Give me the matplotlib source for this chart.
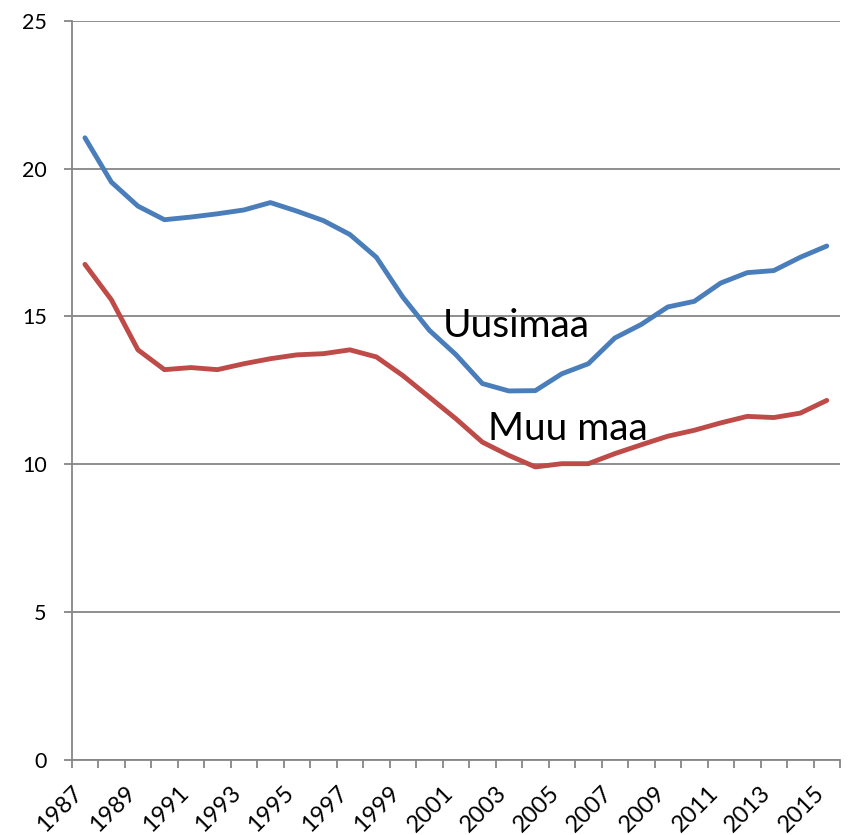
import matplotlib
matplotlib.use('Agg')

import numpy as np
import matplotlib.pyplot as plt

# Data
years = list(range(1987, 2016))
uusimaa = [21.04, 19.54, 18.73, 18.27, 18.36, 18.47, 18.60, 18.85, 18.56, 18.24,
           17.77, 17.00, 15.65, 14.53, 13.71, 12.73, 12.48, 12.49, 13.06, 13.40,
           14.27, 14.73, 15.32, 15.51, 16.13, 16.48, 16.55, 17.00, 17.38]
muu_maa = [16.76, 15.56, 13.87, 13.20, 13.27, 13.20, 13.40, 13.57, 13.70, 13.74,
           13.87, 13.63, 13.00, 12.27, 11.54, 10.75, 10.30, 9.91, 10.02, 10.02,
           10.36, 10.66, 10.95, 11.15, 11.40, 11.62, 11.58, 11.73, 12.16]
y_ticks = [0, 5, 10, 15, 20, 25]
label_years = years[::2]

plt.rcParams['font.family'] = ['Lato', 'DejaVu Sans']

grid_col = '#868686'

fig = plt.figure(figsize=(8.48, 8.35), dpi=100)
ax = fig.add_axes([71.7 / 848, 75 / 835, (840 - 71.7) / 848, (760 - 20.7) / 835])

ax.plot(years, uusimaa, color='#4A7EBB', lw=3.5, solid_capstyle='round',
        solid_joinstyle='round', zorder=3)
ax.plot(years, muu_maa, color='#BE4B48', lw=3.5, solid_capstyle='round',
        solid_joinstyle='round', zorder=3)

ax.set_xlim(years[0] - 0.5, years[-1] + 0.5)
ax.set_ylim(0, 25)

# y axis
ax.set_yticks(y_ticks)
ax.set_yticklabels([str(v) for v in y_ticks], fontsize=15.5)
ax.yaxis.grid(True, color=grid_col, lw=1.3)
ax.tick_params(axis='y', length=6, width=1.3, color=grid_col, pad=12)

# x axis: tick marks between categories, labels on odd years
ax.set_xticks(np.arange(years[0] - 0.5, years[-1] + 1.0, 1.0))
ax.set_xticklabels([])
ax.tick_params(axis='x', length=6, width=1.3, color=grid_col)
for yr in label_years:
    ax.text(yr + 0.05, -0.75, str(yr), rotation=45, ha='right', va='top',
            fontsize=17, transform=ax.transData)

for side in ['top', 'right']:
    ax.spines[side].set_visible(False)
for side in ['left', 'bottom']:
    ax.spines[side].set_color(grid_col)
    ax.spines[side].set_linewidth(1.3)
ax.set_axisbelow(True)

ax.text(2000.5, 14.29, 'Uusimaa', fontsize=28, ha='left', va='baseline')
ax.text(2002.2, 10.81, 'Muu maa', fontsize=28, ha='left', va='baseline')

fig.savefig('out.png', dpi=100)
